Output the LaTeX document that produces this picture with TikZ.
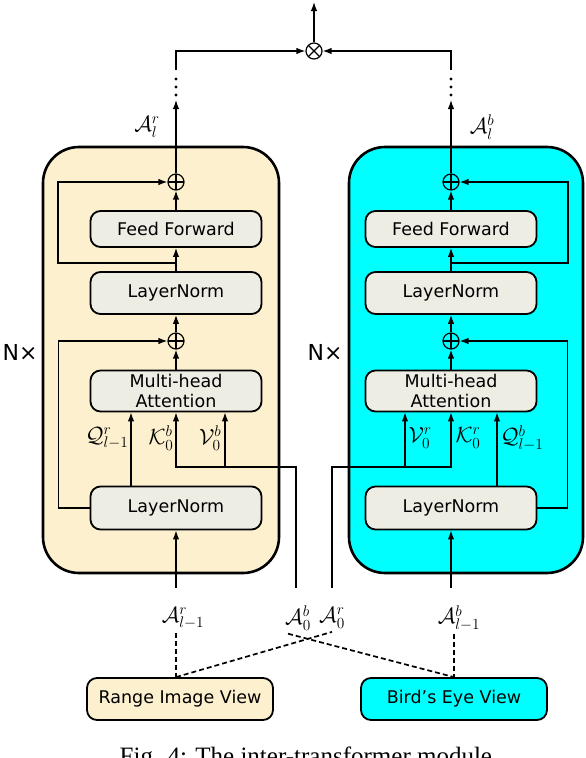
\RequirePackage{fix-cm}
\documentclass[tikz,border=0pt]{standalone}
\usepackage{fontspec}
\setmainfont{DejaVu Sans}
\newfontfamily\capfont{Liberation Serif}
\usetikzlibrary{arrows.meta}

\definecolor{rvfill}{RGB}{253,240,206}
\definecolor{bevfill}{RGB}{0,255,255}
\definecolor{boxgray}{RGB}{238,237,228}

\tikzset{
  stack/.style={draw, line width=2.6pt, rounded corners=36pt, minimum height=426pt},
  block/.style={draw, line width=1.8pt, rounded corners=10pt, fill=boxgray, minimum width=171pt,
    align=center, font=\fontsize{17.5}{20}\selectfont},
  view/.style={draw, line width=1.8pt, rounded corners=10pt, minimum width=186pt, minimum height=42pt,
    font=\fontsize{17.5}{20}\selectfont},
  oplus/.style={circle, draw, line width=1.2pt, minimum size=16pt, inner sep=0pt,
    path picture={\draw[line width=1.2pt] (path picture bounding box.north) -- (path picture bounding box.south)
      (path picture bounding box.west) -- (path picture bounding box.east);}},
  otimes/.style={circle, draw, line width=1.2pt, minimum size=16pt, inner sep=0pt,
    path picture={\draw[line width=1.2pt] (path picture bounding box.north west) -- (path picture bounding box.south east)
      (path picture bounding box.south west) -- (path picture bounding box.north east);}},
  lab/.style={inner sep=0pt, font=\fontsize{22}{26}\selectfont},
  nx/.style={font=\fontsize{22}{26}\selectfont},
  dashline/.style={dash pattern=on 5pt off 3pt, line width=1.7pt}
}

\begin{document}
\begin{tikzpicture}[x=1pt,y=-1pt,>={Latex[length=9pt,width=6.5pt]},line width=1.3pt]
\useasboundingbox (0,0) rectangle (586,758);

\node[stack,fill=rvfill,minimum width=236pt] (encL) at (161,360) {};
\node[stack,fill=bevfill,minimum width=234pt] (encR) at (466,360) {};
\node[nx] (nL) at (20,352) {N×};
\node[nx] (nR) at (325,352) {N×};

% range image branch
\node[oplus] (addL2) at (176,182) {};
\node[block,minimum height=36pt] (ffL) at (176,229) {Feed Forward};
\node[block,minimum height=42pt] (lnL2) at (176,293) {LayerNorm};
\node[oplus] (addL1) at (176,341) {};
\node[block,minimum height=41pt] (mhaL) at (176,391) {Multi-head\\Attention};
\node[block,minimum height=43pt] (lnL1) at (176,508) {LayerNorm};

\coordinate (inL) at (176,588);
\draw[->](inL)--(lnL1);
\draw[->]([xshift=-45pt]lnL1.north)--([xshift=-45pt]mhaL.south);
\coordinate (a0bL) at (296,588);
\coordinate (kvL) at (296,467);
\coordinate (vL) at ([xshift=49pt]mhaL.south);
\draw[->](a0bL)--(kvL)-|(mhaL.south);
\draw[->](vL|-kvL)--(vL);
\draw[->](mhaL)--(addL1);
\draw[->](lnL1.west)--++(-31,0)|-(addL1);
\draw[->](addL1)--(lnL2);
\draw[->](lnL2)--(ffL);
\coordinate (brL) at (176,263);
\draw[->](brL)--++(-118,0)|-(addL2);
\draw[->](ffL)--(addL2);

\node[lab,anchor=east] at (129,438) {$\mathcal{Q}^r_{l-1}$};
\node[lab,anchor=east] at (174,438) {$\mathcal{K}^b_0$};
\node[lab,anchor=east] at (222,438) {$\mathcal{V}^b_0$};

% bird's eye branch
\node[oplus] (addR2) at (451,182) {};
\node[block,minimum height=36pt] (ffR) at (451,229) {Feed Forward};
\node[block,minimum height=42pt] (lnR2) at (451,293) {LayerNorm};
\node[oplus] (addR1) at (451,341) {};
\node[block,minimum height=41pt] (mhaR) at (451,391) {Multi-head\\Attention};
\node[block,minimum height=43pt] (lnR1) at (451,508) {LayerNorm};

\coordinate (inR) at (451,588);
\draw[->](inR)--(lnR1);
\draw[->]([xshift=46pt]lnR1.north)--([xshift=46pt]mhaR.south);
\coordinate (a0rR) at (332,588);
\coordinate (kvR) at (332,467);
\coordinate (vR) at ([xshift=-46pt]mhaR.south);
\draw[->](a0rR)--(kvR)-|(mhaR.south);
\draw[->](vR|-kvR)--(vR);
\draw[->](mhaR)--(addR1);
\draw[->](lnR1.east)--++(30,0)|-(addR1);
\draw[->](addR1)--(lnR2);
\draw[->](lnR2)--(ffR);
\coordinate (brR) at (451,263);
\draw[->](brR)--++(117,0)|-(addR2);
\draw[->](ffR)--(addR2);

\node[lab,anchor=west] at (408,438) {$\mathcal{V}^r_0$};
\node[lab,anchor=west] at (455,438) {$\mathcal{K}^r_0$};
\node[lab,anchor=west] at (500,438) {$\mathcal{Q}^b_{l-1}$};

% fusion on top
\node[otimes] (mul) at (314,51) {};
\coordinate (out) at (314,2);
\draw[->](mul)--(out);

\coordinate (topL) at (176,100);
\coordinate (topR) at (451,100);
\draw[->](addL2)--(topL);
\draw[->](addR2)--(topR);
\foreach \y in {79,87,95}{
  \fill (176,\y) circle (1.7pt);
  \fill (451,\y) circle (1.7pt);
}
\coordinate (upL) at (176,70);
\coordinate (upR) at (451,70);
\draw[->](upL)|-(mul);
\draw[->](upR)|-(mul);
\node[lab] at (147,127) {$\mathcal{A}^r_l$};
\node[lab] at (482,127) {$\mathcal{A}^b_l$};

% inputs
\node[lab] (arl) at (183,618) {$\mathcal{A}^r_{l-1}$};
\node[lab] (a0b) at (298,618) {$\mathcal{A}^b_0$};
\node[lab] (a0r) at (332,618) {$\mathcal{A}^r_0$};
\node[lab] (abl) at (459,618) {$\mathcal{A}^b_{l-1}$};

\node[view,fill=rvfill] (riv) at (180,699) {Range Image View};
\node[view,fill=bevfill] (bev) at (454,699) {Bird’s Eye View};

\draw[dashline]([yshift=-3pt]arl.south-|inL)--(inL|-riv.north);
\draw[dashline](inL|-riv.north)--([yshift=-3pt]a0r.south);
\draw[dashline]([xshift=-10pt,yshift=-3pt]a0b.south)--(bev.north);
\draw[dashline]([yshift=-3pt]abl.south-|bev.north)--(bev.north);

\node[anchor=base,font=\capfont\fontsize{25}{30}\selectfont] (cap) at (309,764) {Fig. 4: The inter-transformer module.};
\end{tikzpicture}
\end{document}
